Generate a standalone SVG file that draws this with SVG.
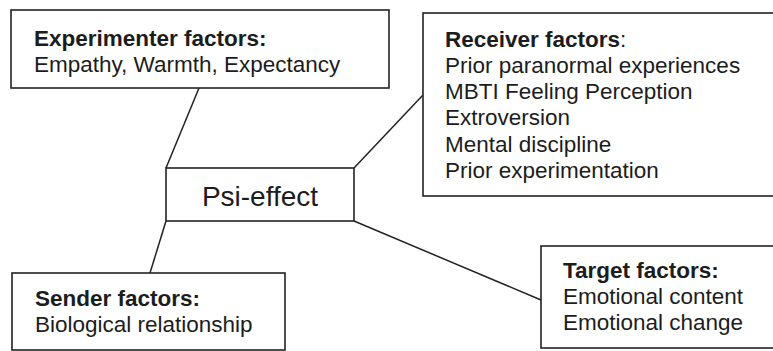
<svg xmlns="http://www.w3.org/2000/svg" width="773" height="351" viewBox="0 0 773 351">
  <style>
    .box { fill: #ffffff; stroke: #222222; stroke-width: 1.6; }
    .link { fill: none; stroke: #222222; stroke-width: 1.5; }
    text { font-family: "Liberation Sans", Arial, sans-serif; font-size: 22.5px; fill: #1c1c1c; }
    .head { font-weight: bold; }
    .plain { font-weight: normal; }
    .centre { font-size: 28px; }
  </style>
  <rect width="773" height="351" fill="#ffffff"/>

  <!-- connectors between the centre box and the factor boxes -->
  <g id="connectors">
    <line class="link" x1="199" y1="88" x2="166" y2="168"/>
    <line class="link" x1="354" y1="168" x2="423" y2="95"/>
    <line class="link" x1="166" y1="221" x2="150" y2="273"/>
    <line class="link" x1="354" y1="221" x2="541" y2="300"/>
  </g>

  <g id="experimenter">
    <rect class="box" x="11" y="10" width="378" height="78"/>
    <text x="34" y="46" class="head">Experimenter factors:</text>
    <text x="34" y="72">Empathy, Warmth, Expectancy</text>
  </g>

  <g id="receiver">
    <rect class="box" x="423" y="13" width="360" height="183"/>
    <text x="445" y="47" class="head">Receiver factors<tspan class="plain">:</tspan></text>
    <text x="445" y="73">Prior paranormal experiences</text>
    <text x="445" y="99">MBTI Feeling Perception</text>
    <text x="445" y="125">Extroversion</text>
    <text x="445" y="152">Mental discipline</text>
    <text x="445" y="178">Prior experimentation</text>
  </g>

  <g id="psi-effect">
    <rect class="box" x="166" y="168" width="188" height="53"/>
    <text x="260" y="206" class="centre" text-anchor="middle">Psi-effect</text>
  </g>

  <g id="sender">
    <rect class="box" x="12" y="273" width="273" height="77"/>
    <text x="35" y="306" class="head">Sender factors:</text>
    <text x="35" y="332">Biological relationship</text>
  </g>

  <g id="target">
    <rect class="box" x="541" y="246" width="240" height="102"/>
    <text x="563" y="278" class="head">Target factors:</text>
    <text x="563" y="304">Emotional content</text>
    <text x="563" y="330">Emotional change</text>
  </g>
</svg>
